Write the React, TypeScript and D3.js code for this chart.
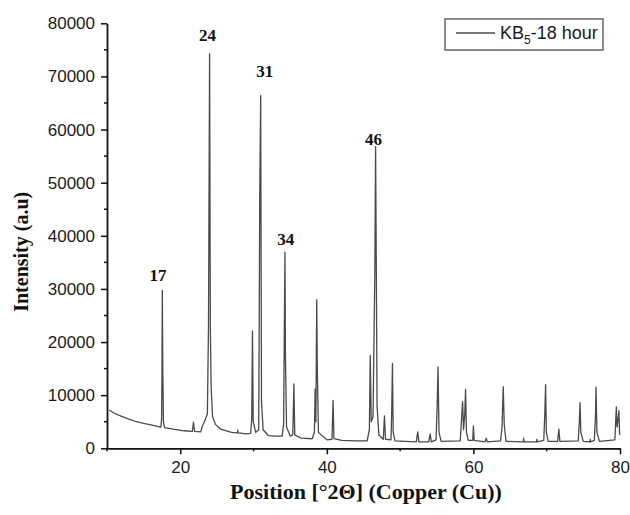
import React, { useRef, useEffect } from "react";
import * as d3 from "d3";

// pattern: 2theta (deg) and intensity (a.u)
const twoTheta = [
  10.3, 11, 12, 13, 14, 15, 16, 17, 17.35, 17.45, 17.5, 17.55, 17.62, 17.7, 17.85,
  19, 20.5, 21.65, 21.8, 21.95, 22.8, 23.0, 23.3, 23.7, 23.85, 24.0, 24.1, 24.2, 24.4, 24.8,
  25.5, 27, 27.8, 27.85, 27.9, 29.0, 29.6, 29.75, 29.85, 29.95, 30.3, 30.7, 30.85, 30.97, 31.08,
  31.3, 32, 33, 33.9, 34.1, 34.2, 34.28, 34.35, 34.5, 35.0, 35.35, 35.5, 35.62, 36.5, 38.0,
  38.3, 38.4, 38.5, 38.62, 38.7, 38.85, 40, 40.7, 40.85, 40.97, 42, 44, 45.5, 45.8, 45.92,
  46.05, 46.3, 46.55, 46.65, 46.75, 46.85, 47.1, 47.7, 47.86, 48.0, 48.75, 48.85, 48.95, 49.05, 49.3,
  52.2, 52.4, 52.55, 53.9, 54.1, 54.25, 54.9, 55.05, 55.17, 55.3, 55.6, 58.2, 58.4, 58.52, 58.65,
  58.8, 58.93, 59.05, 59.3, 59.9, 60.0, 60.1, 61.6, 61.75, 61.9, 63.7, 63.9, 64.07, 64.2, 64.45,
  66.8, 66.85, 66.9, 68.6, 68.65, 68.7, 69.6, 69.75, 69.85, 69.95, 70.2, 71.5, 71.65, 71.8, 74.3,
  74.45, 74.55, 74.65, 75.0, 75.9, 75.95, 76.0, 76.5, 76.65, 76.73, 76.85, 77.2, 79.3, 79.5, 79.6,
  79.75, 79.85, 79.95,
];
const intensity = [
  7200, 6600, 6000, 5500, 5000, 4700, 4400, 4100, 4000, 5500, 14200, 29700, 14000, 5000, 3900,
  3600, 3300, 3200, 4900, 3200, 3100, 4200, 5000, 6500, 23200, 74300, 23000, 11900, 6000, 4500,
  3600, 3000, 2900, 3400, 2900, 2700, 2800, 5500, 22100, 5000, 3000, 3500, 48600, 66400, 9000,
  3500, 2400, 2300, 2300, 4500, 23000, 36900, 17000, 4000, 2300, 2500, 12100, 2500, 1900, 1800,
  3000, 11200, 5000, 28000, 14600, 3000, 1600, 1700, 9000, 1800, 1500, 1400, 1400, 3500, 17500,
  5000, 6000, 33500, 56800, 33500, 8000, 2500, 1700, 6100, 1700, 1600, 7000, 16000, 3000, 1400,
  1200, 3100, 1200, 1200, 2700, 1200, 1600, 7800, 15300, 3000, 1300, 1400, 6000, 8800, 3500,
  6000, 11100, 3000, 1500, 1500, 4200, 1500, 1200, 1900, 1200, 1400, 4000, 11600, 4500, 1300,
  1200, 1900, 1200, 1200, 1700, 1200, 1500, 7000, 12000, 3000, 1300, 1300, 3600, 1300, 1400,
  5000, 8600, 3000, 1300, 1200, 1700, 1200, 1500, 6000, 11500, 3000, 1300, 1600, 7800, 4000,
  5500, 7100, 2500,
];

// peak annotations (text, 2theta, intensity level of the label baseline)
const peakLabels = ["17", "24", "31", "34", "46"];
const peakLabelTheta = [16.95, 23.71, 31.52, 34.38, 46.36];
const peakLabelLevel = [31500, 76750, 69900, 38350, 57100];

const xTicks = [20, 40, 60, 80];
const xMinorTicks = [10, 30, 50, 70];
const yTicks = [0, 10000, 20000, 30000, 40000, 50000, 60000, 70000, 80000];
const yMinorTicks = [5000, 15000, 25000, 35000, 45000, 55000, 65000, 75000];

const App = () => {
  const ref = useRef<SVGSVGElement>(null);
  const width = 630;
  const height = 515;
  const margin = { top: 23.3, right: 10, bottom: 66.7, left: 107 };

  useEffect(() => {
    const svg = d3.select(ref.current);
    svg.selectAll("*").remove();

    const x = d3.scaleLinear().domain([10, 80]).range([margin.left, width - margin.right]);
    const y = d3.scaleLinear().domain([0, 80000]).range([height - margin.bottom, margin.top]);

    const data = twoTheta.map((t, i) => [t, intensity[i]] as [number, number]);

    // pattern
    const line = d3
      .line<[number, number]>()
      .x((d) => x(d[0]))
      .y((d) => y(d[1]));
    svg
      .append("path")
      .datum(data)
      .attr("d", line)
      .attr("fill", "none")
      .attr("stroke", "#4a4a4a")
      .attr("stroke-width", 1.3)
      .attr("stroke-linejoin", "round");

    // x axis
    const xAxis = svg.append("g").attr("transform", `translate(0,${y(0)})`);
    xAxis
      .call(d3.axisBottom(x).tickValues(xTicks).tickSize(6).tickSizeOuter(0).tickPadding(7))
      .selectAll("text")
      .attr("font-family", "Liberation Sans, Arial, sans-serif")
      .attr("font-size", 17)
      .attr("fill", "#1a1a1a");
    xAxis
      .selectAll(".minor")
      .data(xMinorTicks)
      .enter()
      .append("line")
      .attr("x1", (d) => x(d))
      .attr("x2", (d) => x(d))
      .attr("y1", 0)
      .attr("y2", 3)
      .attr("stroke", "#111")
      .attr("stroke-width", 1.5);

    // y axis
    const yAxis = svg.append("g").attr("transform", `translate(${margin.left},0)`);
    yAxis
      .call(d3.axisLeft(y).tickValues(yTicks).tickSize(6).tickSizeOuter(0).tickPadding(6).tickFormat(d3.format("d")))
      .selectAll("text")
      .attr("font-family", "Liberation Sans, Arial, sans-serif")
      .attr("font-size", 17)
      .attr("fill", "#1a1a1a");
    yAxis
      .selectAll(".minor")
      .data(yMinorTicks)
      .enter()
      .append("line")
      .attr("x1", -3)
      .attr("x2", 0)
      .attr("y1", (d) => y(d))
      .attr("y2", (d) => y(d))
      .attr("stroke", "#111")
      .attr("stroke-width", 1.5);

    svg.selectAll(".domain").attr("stroke", "#111").attr("stroke-width", 1.8);
    svg.selectAll(".tick line").attr("stroke", "#111").attr("stroke-width", 1.5);

    // peak labels
    svg
      .selectAll(".peak")
      .data(peakLabels)
      .enter()
      .append("text")
      .attr("x", (d, i) => x(peakLabelTheta[i]))
      .attr("y", (d, i) => y(peakLabelLevel[i]))
      .attr("text-anchor", "middle")
      .attr("font-family", "Liberation Serif, Times New Roman, serif")
      .attr("font-weight", "bold")
      .attr("font-size", 17)
      .attr("fill", "#111")
      .text((d) => d);

    // axis titles
    svg
      .append("text")
      .attr("x", 366)
      .attr("y", 499)
      .attr("text-anchor", "middle")
      .attr("font-family", "Liberation Serif, Times New Roman, serif")
      .attr("font-weight", "bold")
      .attr("font-size", 22)
      .attr("fill", "#111")
      .text("Position [°2Θ] (Copper (Cu))");
    svg
      .append("text")
      .attr("transform", `translate(28,${(margin.top + height - margin.bottom) / 2 + 16}) rotate(-90)`)
      .attr("text-anchor", "middle")
      .attr("font-family", "Liberation Serif, Times New Roman, serif")
      .attr("font-weight", "bold")
      .attr("font-size", 20)
      .attr("fill", "#111")
      .text("Intensity (a.u)");

    // legend
    const legend = svg.append("g");
    legend
      .append("rect")
      .attr("x", 445)
      .attr("y", 19)
      .attr("width", 158)
      .attr("height", 31)
      .attr("fill", "#fff")
      .attr("stroke", "#666")
      .attr("stroke-width", 1.5);
    legend
      .append("line")
      .attr("x1", 456)
      .attr("x2", 495)
      .attr("y1", 33)
      .attr("y2", 33)
      .attr("stroke", "#4a4a4a")
      .attr("stroke-width", 1.5);
    const lt = legend
      .append("text")
      .attr("x", 500)
      .attr("y", 39)
      .attr("font-family", "Liberation Sans, Arial, sans-serif")
      .attr("font-size", 18)
      .attr("fill", "#1a1a1a");
    lt.append("tspan").text("KB");
    lt.append("tspan").attr("font-size", 12).attr("dy", 5).text("5");
    lt.append("tspan").attr("dy", -5).text("-18 hour");
  }, []);

  return (
    <svg
      ref={ref}
      width={width}
      height={height}
      style={{ position: "absolute", left: 0, top: 0, background: "#fff" }}
    />
  );
};

export default App;
